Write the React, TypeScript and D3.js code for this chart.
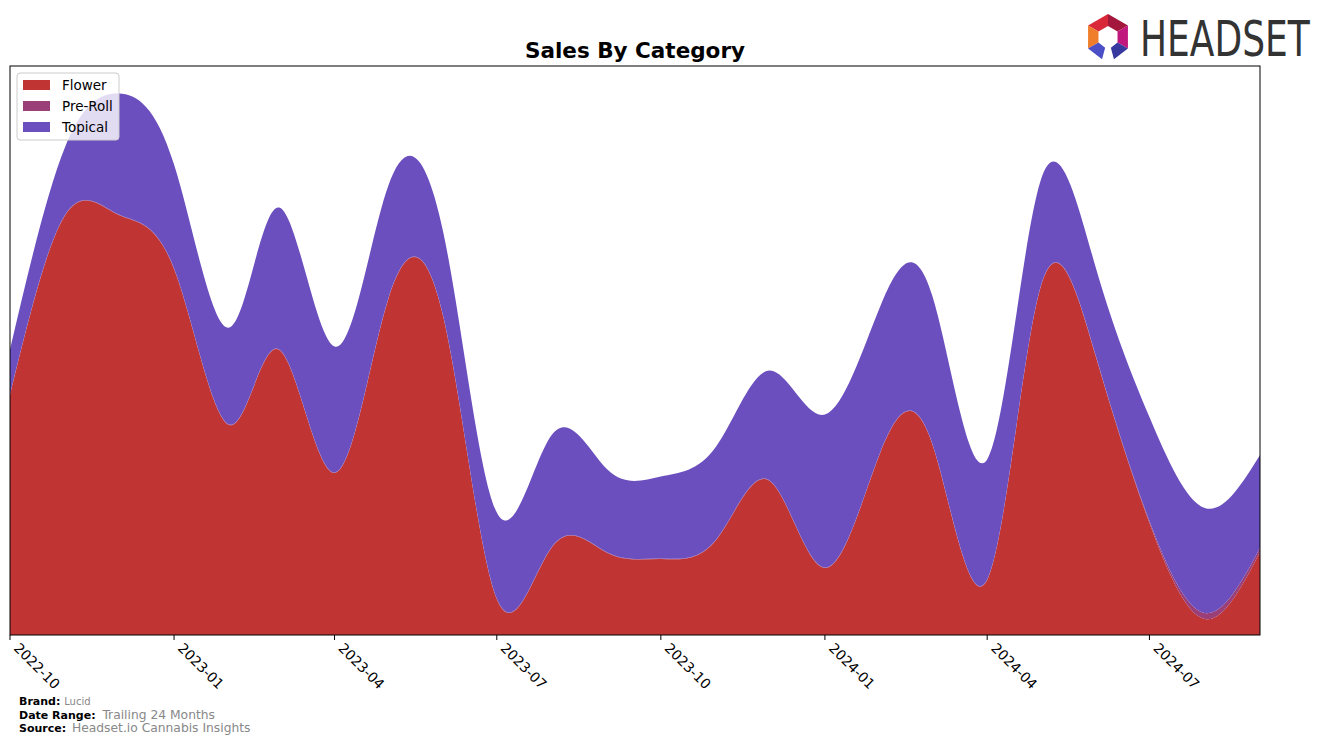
import React from 'react';
import * as d3 from 'd3';

const months = [
  '2022-10', '2022-11', '2022-12', '2023-01', '2023-02', '2023-03', '2023-04', '2023-05',
  '2023-06', '2023-07', '2023-08', '2023-09', '2023-10', '2023-11', '2023-12', '2024-01',
  '2024-02', '2024-03', '2024-04', '2024-05', '2024-06', '2024-07', '2024-08', '2024-09',
];
const flower = [240, 420, 420, 366, 210, 285, 162, 335, 318, 36, 88, 82, 76, 95, 154, 67, 182, 192, 55, 348, 278, 112, 16, 83];
const preRoll = [0.5, 0.5, 0.5, 0.5, 0.5, 0.5, 0.5, 0.5, 0.5, 0.5, 0.5, 0.5, 0.5, 0.5, 0.5, 0.5, 0.5, 0.5, 0.5, 0.5, 0.8, 2, 6, 4];
const topical = [45, 68, 121, 104, 97, 142, 126, 113, 84, 86, 112, 83, 82, 93, 110, 153, 146, 148, 120, 106, 88, 104, 105, 93];
const tickLabels = ['2022-10', '2023-01', '2023-04', '2023-07', '2023-10', '2024-01', '2024-04', '2024-07'];
const seriesNames = ['Flower', 'Pre-Roll', 'Topical'];
const seriesColors = ['#c13434', '#9a3f78', '#6b4fbf'];
const yMax = 569;

function Logo() {
  const cx = 1108, cy = 37, R = 23, r = 11;
  const pt = (a: number, rad: number) => [cx + rad * Math.cos((a * Math.PI) / 180), cy + rad * Math.sin((a * Math.PI) / 180)];
  const seg = (a1: number, a2: number) => [pt(a1, R), pt(a2, R), pt(a2, r), pt(a1, r)].map((p) => p.join(',')).join(' ');
  const segs = [
    { a1: 210, a2: 270, c: '#d8283a' },
    { a1: 270, a2: 330, c: '#a3173c' },
    { a1: 330, a2: 390, c: '#c0187c' },
    { a1: 150, a2: 210, c: '#f07d2a' },
    { a1: 105, a2: 150, c: '#4b4fc6' },
    { a1: 30, a2: 75, c: '#37399e' },
  ];
  return (
    <g>
      {segs.map((s, i) => (
        <polygon key={i} points={seg(s.a1, s.a2)} fill={s.c} />
      ))}
      <text transform="translate(1140,56) scale(1,1.4)" fontFamily="'DejaVu Sans', sans-serif"
        fontSize={36} fill="#333">HEADSET</text>
    </g>
  );
}

export default function App() {
  const W = 1324, H = 744;
  const m = { left: 10, right: 1260, top: 66, bottom: 635 };
  const parse = d3.timeParse('%Y-%m');
  const dates = months.map((s) => parse(s) as Date);
  const x = d3.scaleTime().domain([dates[0], dates[dates.length - 1]]).range([m.left, m.right]);
  const y = d3.scaleLinear().domain([0, yMax]).range([m.bottom, m.top]);
  const rows = months.map((_, i) => ({ date: dates[i], Flower: flower[i], 'Pre-Roll': preRoll[i], Topical: topical[i] }));
  const stacked = d3.stack<any>().keys(seriesNames)(rows as any);
  const area = d3.area<any>()
    .x((d) => x(d.data.date))
    .y0((d) => y(d[0]))
    .y1((d) => y(d[1]))
    .curve(d3.curveNatural);
  const ticks = tickLabels.map((t) => ({ label: t, pos: x(parse(t) as Date) }));
  const font = "'DejaVu Sans', sans-serif";

  return (
    <svg width={W} height={H} style={{ position: 'absolute', left: 0, top: 0, background: '#fff' }} fontFamily={font}>
      <defs>
        <clipPath id="plotclip">
          <rect x={m.left} y={m.top} width={m.right - m.left} height={m.bottom - m.top} />
        </clipPath>
      </defs>
      <text x={635} y={58} textAnchor="middle" fontWeight="bold" fontSize={21.5}>Sales By Category</text>
      <g clipPath="url(#plotclip)">
        {stacked.map((s, i) => (
          <path key={s.key} d={area(s as any) || ''} fill={seriesColors[i]} />
        ))}
      </g>
      <rect x={m.left} y={m.top} width={m.right - m.left} height={m.bottom - m.top} fill="none" stroke="#000" strokeWidth={1} />
      {ticks.map((t) => (
        <g key={t.label}>
          <line x1={t.pos} x2={t.pos} y1={m.bottom} y2={m.bottom + 5} stroke="#000" />
          <text transform={`translate(${t.pos + 3},${m.bottom + 14}) rotate(45)`} fontSize={13.9} fill="#000">{t.label}</text>
        </g>
      ))}
      <g>
        <rect x={17} y={73} width={102} height={67} rx={3} fill="#fff" fillOpacity={0.8} stroke="#ccc" />
        {seriesNames.map((n, i) => (
          <g key={n}>
            <rect x={23} y={80 + i * 21} width={27} height={10} fill={seriesColors[i]} />
            <text x={62} y={90 + i * 21} fontSize={13.5}>{n}</text>
          </g>
        ))}
      </g>
      <text x={19} y={705} fontSize={11}>
        <tspan fontWeight="bold">Brand: </tspan>
        <tspan fill="#888" fontSize={10}>Lucid</tspan>
      </text>
      <text x={19} y={718.5} fontSize={11}>
        <tspan fontWeight="bold">Date Range: </tspan>
        <tspan fill="#888" fontSize={12.3} dx={3}>Trailing 24 Months</tspan>
      </text>
      <text x={19} y={731.5} fontSize={11}>
        <tspan fontWeight="bold">Source: </tspan>
        <tspan fill="#888" fontSize={12.3} dx={2}>Headset.io Cannabis Insights</tspan>
      </text>
      <Logo />
    </svg>
  );
}
